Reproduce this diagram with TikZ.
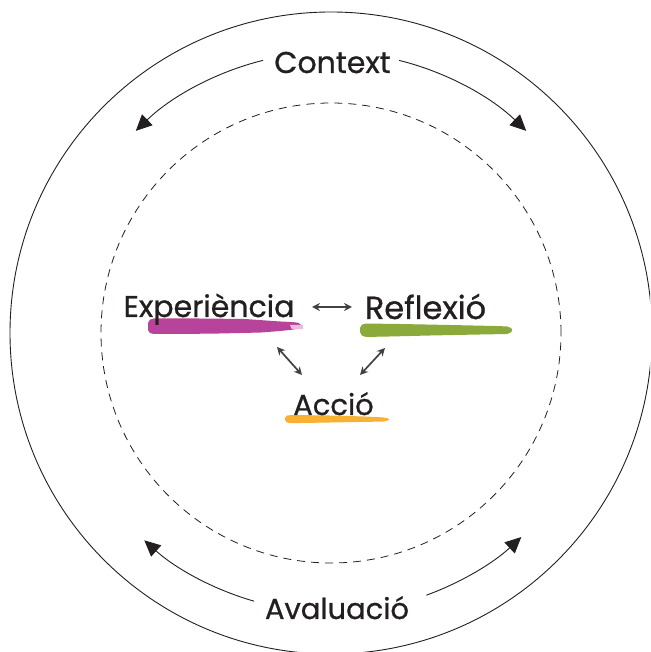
\documentclass[tikz,border=0pt]{standalone}
\usepackage{fontspec}
\setmainfont{Poppins}[FakeBold=0.8]
\usetikzlibrary{arrows.meta,calc}
\definecolor{brushmag}{HTML}{B8439B}
\definecolor{brushgrn}{HTML}{8AAB3B}
\definecolor{brushorg}{HTML}{F8B133}
\definecolor{ink}{HTML}{231F20}
\begin{document}
\begin{tikzpicture}[x=1pt,y=1pt,
  lbl/.style={font=\fontsize{30}{36}\selectfont, text=ink, inner sep=0pt, anchor=base},
  ring/.style={line width=0.9pt, draw=ink},
  dashring/.style={line width=0.8pt, draw=ink, dash pattern=on 8pt off 6pt},
  ringarrow/.style={line width=0.9pt, draw=ink, -{Triangle[length=16pt,width=15pt]}},
  smallarrow/.style={line width=1.7pt, draw=ink!85, {Stealth[length=8pt,width=8pt]}-{Stealth[length=8pt,width=8pt]}},
  brush/.style={rounded corners=2pt}
]
\useasboundingbox (0,0) rectangle (650,652);
\clip (0,0) rectangle (650,652);
\coordinate (C) at (331,319);
% circles
\draw[ring] (C) circle[radius=321];
\draw[dashring] (C) circle[radius=230];
% arc endpoints
\coordinate (ctxL) at ($(C)+(104:281)$);
\coordinate (ctxR) at ($(C)+(76:281)$);
\coordinate (avL) at ($(C)+(254:279)$);
\coordinate (avR) at ($(C)+(290:279)$);
\draw[ringarrow] (ctxL) arc[start angle=104, end angle=134, radius=281];
\draw[ringarrow] (ctxR) arc[start angle=76, end angle=46, radius=281];
\draw[ringarrow] (avL) arc[start angle=254, end angle=228, radius=279];
\draw[ringarrow] (avR) arc[start angle=290, end angle=313, radius=279];
% brush strokes
\fill[brushmag, brush] (148,320) -- (148,331) -- (152,333.5) -- (200,333.5) -- (245,333)
  -- (266,331.5) -- (280,330.5) -- (292,330) -- (300,329) -- (302,325.5)
  -- (295,322.5) -- (280,321) -- (262,319.5) -- (220,318.5) -- (180,318) -- (152,318) -- cycle;
\fill[brushmag!35] (290,327) -- (303,327) -- (303,323) -- (292,322.5) -- cycle;
\fill[brushgrn, brush] (360,318) -- (360,326) -- (364,328.5) -- (400,328) -- (450,327)
  -- (495,326) -- (509,325.5) -- (513,322) -- (509,318) -- (480,317.5) -- (430,316.5)
  -- (390,315.5) -- (364,315) -- cycle;
\fill[brushorg, brush] (285,230) -- (285,236) -- (290,237) -- (330,236.5) -- (365,235.5)
  -- (385,234.5) -- (390,233) -- (386,230.5) -- (360,230) -- (330,229.5) -- (290,228.8) -- cycle;
% labels
\node[lbl] (ctx) at (332.5,579) {Context};
\node[lbl, font=\fontsize{29}{36}\selectfont] (aval) at (337,33) {Avaluació};
\node[lbl] (exp) at (209,335) {Experiència};
\node[lbl, font=\fontsize{32}{36}\selectfont] (ref) at (425.5,333) {Reflexió};
\node[lbl, font=\fontsize{29}{36}\selectfont] (acc) at (333.5,237) {Acció};
% small arrows
\coordinate (h1) at (312,345);
\coordinate (h2) at (352,345);
\coordinate (dl1) at (277,305);
\coordinate (dl2) at (302,277);
\coordinate (dr1) at (385,304);
\coordinate (dr2) at (360,277);
\draw[smallarrow] (h1) -- (h2);
\draw[smallarrow] (dl1) -- (dl2);
\draw[smallarrow] (dr1) -- (dr2);
\end{tikzpicture}
\end{document}
